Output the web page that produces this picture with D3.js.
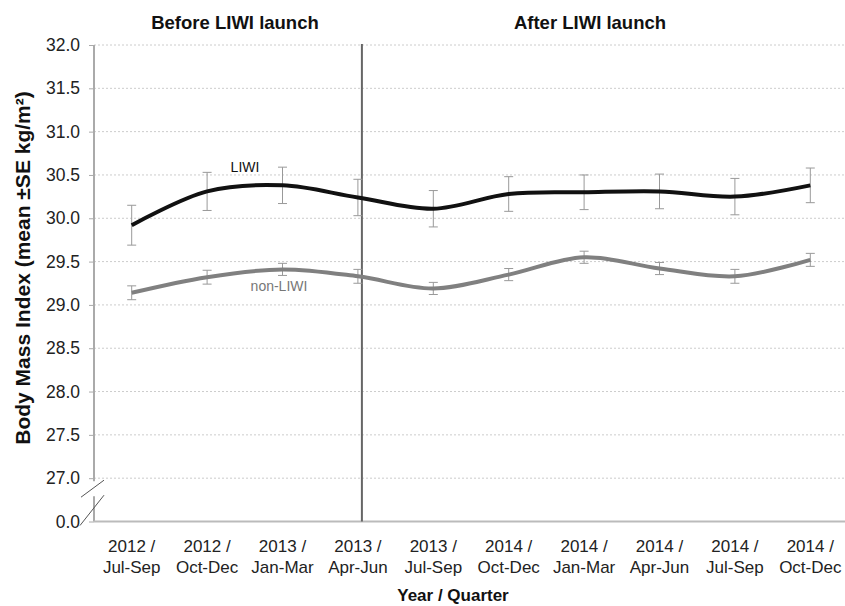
<!DOCTYPE html>
<html>
<head>
<meta charset="utf-8">
<script src="https://cdn.jsdelivr.net/npm/d3@7"></script>
<style>
html,body{margin:0;padding:0;background:#fff;}
svg{display:block;font-family:"Liberation Sans",Arial,sans-serif;}
</style>
</head>
<body>
<svg id="chart" width="845" height="606"></svg>
<script>
// ---- data ----
const categories = ["2012 / Jul-Sep","2012 / Oct-Dec","2013 / Jan-Mar","2013 / Apr-Jun","2013 / Jul-Sep",
                    "2014 / Oct-Dec","2014 / Jan-Mar","2014 / Apr-Jun","2014 / Jul-Sep","2014 / Oct-Dec"];
const catLine1 = ["2012 /","2012 /","2013 /","2013 /","2013 /","2014 /","2014 /","2014 /","2014 /","2014 /"];
const catLine2 = ["Jul-Sep","Oct-Dec","Jan-Mar","Apr-Jun","Jul-Sep","Oct-Dec","Jan-Mar","Apr-Jun","Jul-Sep","Oct-Dec"];
const liwiMean = [29.92,30.31,30.38,30.24,30.11,30.28,30.30,30.31,30.25,30.38];
const liwiSE   = [0.23,0.22,0.21,0.21,0.21,0.20,0.20,0.20,0.21,0.20];
const nonMean  = [29.14,29.32,29.41,29.33,29.19,29.35,29.55,29.42,29.33,29.52];
const nonSE    = [0.08,0.08,0.07,0.08,0.07,0.07,0.07,0.07,0.08,0.075];
const yTickValues = [26.5,27.0,27.5,28.0,28.5,29.0,29.5,30.0,30.5,31.0,31.5,32.0];
const yTickLabels = ["0.0","27.0","27.5","28.0","28.5","29.0","29.5","30.0","30.5","31.0","31.5","32.0"];
const launchCategory = "2013 / Apr-Jun";

(function(){
// ---- layout ----
const svg = d3.select("#chart");
const pLeft = 94, pRight = 848, pTop = 45, pBottom = 521.5;
const x = d3.scaleBand().domain(categories.map((c,i)=>i)).range([pLeft, pRight]);
const xc = i => x(i) + x.bandwidth()/2;
const y = d3.scaleLinear().domain([26.5, 32]).range([pBottom, pTop]);

// gridlines
svg.append("g").selectAll("line").data(yTickValues.filter(v=>v>26.5)).join("line")
  .attr("x1", pLeft).attr("x2", 845)
  .attr("y1", d=>y(d)).attr("y2", d=>y(d))
  .attr("stroke", "#cccccc").attr("stroke-width", 1).attr("stroke-dasharray", "2,2");

// y axis
const yAxis = d3.axisLeft(y).tickValues(yTickValues).tickSize(5)
  .tickFormat((d,i)=>yTickLabels[i]);
const gy = svg.append("g").attr("transform", `translate(${pLeft},0)`).call(yAxis);
gy.select(".domain").remove();
gy.selectAll(".tick line").attr("stroke", "#aaa");
gy.selectAll(".tick text").attr("font-size", 17.5).attr("fill", "#222")
  .attr("font-family", "Liberation Sans, Arial, sans-serif").attr("x", -14);
// axis line with break
svg.append("line").attr("x1", pLeft).attr("x2", pLeft).attr("y1", pTop).attr("y2", y(27)+3)
  .attr("stroke", "#aaa").attr("stroke-width", 2);
svg.append("line").attr("x1", pLeft).attr("x2", pLeft).attr("y1", y(27)+18).attr("y2", pBottom)
  .attr("stroke", "#aaa").attr("stroke-width", 2);
svg.append("line").attr("x1", pLeft-13).attr("x2", pLeft+10).attr("y1", y(27)+19).attr("y2", y(27)+2)
  .attr("stroke", "#555").attr("stroke-width", 1);
svg.append("line").attr("x1", pLeft-14).attr("x2", pLeft+10).attr("y1", pBottom+4).attr("y2", y(27)+17)
  .attr("stroke", "#555").attr("stroke-width", 1);

// x baseline
svg.append("line").attr("x1", pLeft).attr("x2", 845).attr("y1", pBottom).attr("y2", pBottom)
  .attr("stroke", "#bbb").attr("stroke-width", 2);

// x labels
const xl = svg.append("g").selectAll("text").data(categories).join("text")
  .attr("text-anchor", "middle").attr("font-size", 17).attr("fill", "#222");
xl.append("tspan").attr("x", (d,i)=>xc(i)).attr("y", 552).text((d,i)=>catLine1[i]);
xl.append("tspan").attr("x", (d,i)=>xc(i)).attr("y", 573).text((d,i)=>catLine2[i]);

// launch line
const li = categories.indexOf(launchCategory);
svg.append("line").attr("x1", xc(li)+4).attr("x2", xc(li)+4).attr("y1", pTop-1).attr("y2", pBottom)
  .attr("stroke", "#666").attr("stroke-width", 2);

// error bars
function errorBars(means, ses) {
  const g = svg.append("g").attr("stroke", "#999").attr("stroke-width", 1);
  means.forEach((m,i)=>{
    const cx = xc(i), y1 = y(m+ses[i]), y2 = y(m-ses[i]);
    g.append("line").attr("x1", cx).attr("x2", cx).attr("y1", y1).attr("y2", y2);
    g.append("line").attr("x1", cx-4.5).attr("x2", cx+4.5).attr("y1", y1).attr("y2", y1);
    g.append("line").attr("x1", cx-4.5).attr("x2", cx+4.5).attr("y1", y2).attr("y2", y2);
  });
}
errorBars(liwiMean, liwiSE);
errorBars(nonMean, nonSE);

// lines
const line = d3.line().x((d,i)=>xc(i)).y(d=>y(d)).curve(d3.curveCatmullRom.alpha(0.5));
svg.append("path").attr("d", line(nonMean)).attr("fill", "none")
  .attr("stroke", "#808080").attr("stroke-width", 4);
svg.append("path").attr("d", line(liwiMean)).attr("fill", "none")
  .attr("stroke", "#111").attr("stroke-width", 4);

// series labels
svg.append("text").attr("x", 245).attr("y", 172).attr("text-anchor", "middle")
  .attr("font-size", 14).attr("fill", "#111").text("LIWI");
svg.append("text").attr("x", 279).attr("y", 291).attr("text-anchor", "middle")
  .attr("font-size", 14).attr("fill", "#777").text("non-LIWI");

// section titles
svg.append("text").attr("x", 235).attr("y", 29).attr("text-anchor", "middle")
  .attr("font-size", 18.5).attr("font-weight", "bold").attr("fill", "#111").text("Before LIWI launch");
svg.append("text").attr("x", 590).attr("y", 29).attr("text-anchor", "middle")
  .attr("font-size", 18.5).attr("font-weight", "bold").attr("fill", "#111").text("After LIWI launch");

// axis titles
svg.append("text").attr("x", 453).attr("y", 601).attr("text-anchor", "middle")
  .attr("font-size", 17).attr("font-weight", "bold").attr("fill", "#111").text("Year / Quarter");
svg.append("text").attr("transform", "translate(30,268) rotate(-90)").attr("text-anchor", "middle")
  .attr("font-size", 21).attr("font-weight", "bold").attr("fill", "#111")
  .text("Body Mass Index (mean ±SE kg/m²)");
})();
</script>
</body>
</html>
